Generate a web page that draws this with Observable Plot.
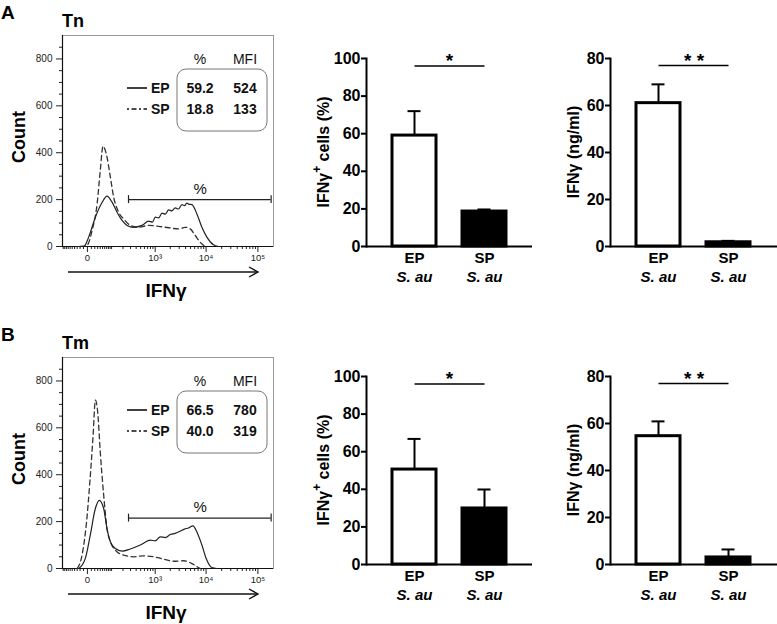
<!DOCTYPE html>
<html><head><meta charset="utf-8">
<script src="https://cdn.jsdelivr.net/npm/d3@7"></script>
<script src="https://cdn.jsdelivr.net/npm/@observablehq/plot@0.6"></script>
<style>
body{margin:0;background:#fff;}
#fig{position:relative;width:777px;height:624px;overflow:hidden;background:#fff;font-family:"Liberation Sans",Arial,sans-serif;}
#fig > svg{position:absolute;overflow:visible;}
</style></head><body><div id="fig"></div>
<script>
const FONT = '"Liberation Sans", Arial, sans-serif';

// ---------- Histogram data (IFNγ value, count) ----------
const histA_EP = [[-30,0],[-9,0],[3,40],[22,125],[48,189],[72,215],[103,189],[142,146],[190,111],[250,90],[352,82],[534,90],[733,108],[880,104],[1004,125],[1180,122],[1368,142],[1600,138],[1852,156],[2150,152],[2508,165],[2900,160],[3392,179],[3800,174],[4246,185],[4700,180],[5310,179],[6640,139],[8300,82],[10360,40],[13910,7],[17370,0]];
const histA_SP = [[-20,0],[-1,5],[12,68],[28,182],[40,324],[52,428],[72,381],[92,296],[115,210],[156,146],[207,118],[297,90],[452,82],[733,90],[1170,86],[1852,80],[2912,75],[3932,82],[4924,75],[6160,47],[7700,18],[9610,0]];
const histB_EP = [[-24,0],[-5,43],[7,142],[22,256],[36,291],[55,256],[72,170],[92,114],[128,85],[190,74],[297,83],[491,100],[795,121],[1000,118],[1265,135],[1600,132],[2000,145],[2500,150],[3140,159],[3800,168],[4560,173],[5550,182],[6640,156],[8300,100],[10050,43],[12950,4],[16200,0]];
const histB_SP = [[-30,0],[-14,57],[-2,199],[6,370],[15,569],[22,718],[30,668],[40,497],[55,313],[72,170],[92,114],[128,78],[207,57],[352,50],[577,54],[928,50],[1473,40],[2325,31],[3645,33],[5310,21],[7130,4],[7700,0]];

const histTitles = ["Tn", "Tm"];
const panelLetters = ["A", "B"];
const statCols = ["%", "MFI"];
const statsA_EP = ["59.2", "524"];
const statsA_SP = ["18.8", "133"];
const statsB_EP = ["66.5", "780"];
const statsB_SP = ["40.0", "319"];
const seriesNames = ["EP", "SP"];

const histYTicks = [0, 200, 400, 600, 800];
const histYMinor = [50,100,150,250,300,350,450,500,550,650,700,750,850];
const histXTicks = [0, 1000, 10000, 100000];
const histXTickLabels = ["0", "10\u00B3", "10\u2074", "10\u2075"];
const histXMinor = [-100,-90,-80,-70,-60,-50,-40,-30,-20,-10,10,20,30,40,50,60,70,80,90,100,200,300,400,500,600,700,800,900,2000,3000,4000,5000,6000,7000,8000,9000,20000,30000,40000,50000,60000,70000,80000,90000];
const gateRange = [270, 180000];
const gateLabelX = 7700;
const gateCountA = 200;
const gateCountB = 215;

// ---------- Bar data ----------
const groups = ["EP", "SP"];
const groupSub = ["S. au", "S. au"];
const barFills = ["white", "black"];
const pctA_mean = [59, 18.6];
const pctA_err = [13, 1.1];
const ngA_mean = [61, 1.8];
const ngA_err = [8, 0.6];
const pctB_mean = [50.5, 29.8];
const pctB_err = [16.3, 10.1];
const ngB_mean = [54.6, 3.0];
const ngB_err = [6.3, 3.4];
const pctTicks = [0, 20, 40, 60, 80, 100];
const ngTicks = [0, 20, 40, 60, 80];
const sigPct = 96;
const sigNg = 77;
const starsPct = "*";
const starsNg = "* *";

const fig = document.getElementById("fig");

function place(svg, left, top) {
  svg.style.position = "absolute";
  svg.style.left = left + "px";
  svg.style.top = top + "px";
  fig.appendChild(svg);
}

function hist(left, top, ep, sp, gateY) {
  const xy = {x: d => d[0], y: d => d[1]};
  const svg = Plot.plot({
    width: 280, height: 262,
    marginLeft: 62, marginRight: 7, marginTop: 35, marginBottom: 16,
    x: {type: "symlog", constant: 52, domain: [-105, 200000]},
    y: {domain: [0, 900]},
    style: {fontFamily: FONT, fontSize: "10px", color: "#222", background: "none", overflow: "visible"},
    marks: [
      Plot.frame({stroke: "#999", strokeWidth: 1}),
      Plot.axisY(histYTicks, {tickSize: 6, tickPadding: 4, label: null, tickFormat: d => String(d), fontSize: 10}),
      Plot.axisY(histYMinor, {tickSize: 3, label: null, tickFormat: () => ""}),
      Plot.axisX(histXTicks, {tickSize: 6, tickPadding: 2, label: null, tickFormat: d => histXTickLabels[histXTicks.indexOf(d)], fontSize: 9.5}),
      Plot.axisX(histXMinor, {tickSize: 3, label: null, tickFormat: () => ""}),
      Plot.frame({anchor: "left", stroke: "#111", strokeWidth: 1.2}),
      Plot.ruleY([0], {stroke: "#111", strokeWidth: 1.2}),
      Plot.line(sp, {...xy, stroke: "#333", strokeWidth: 1.3, strokeDasharray: "5,3.5", curve: "monotone-x"}),
      Plot.line(ep, {...xy, stroke: "#222", strokeWidth: 1.2, curve: "monotone-x"}),
      Plot.ruleY([gateY], {x1: gateRange[0], x2: gateRange[1], stroke: "#222", strokeWidth: 1.2}),
      Plot.ruleX(gateRange, {y1: gateY - 17, y2: gateY + 17, stroke: "#222", strokeWidth: 1.2}),
      Plot.text(["%"], {x: gateLabelX, y: gateY, dy: -6, lineAnchor: "bottom", fontSize: 15, fill: "#111"})
    ]
  });
  place(svg, left, top);
}

function bars(left, top, width, mLeft, yMax, yTicks, means, errs, sig, star) {
  const data = groups.map((g, i) => ({g, m: means[i], e: errs[i], sub: groupSub[i], fill: barFills[i]}));
  const svg = Plot.plot({
    width: width, height: 290,
    marginLeft: mLeft, marginRight: 0, marginTop: 58, marginBottom: 44,
    x: {domain: groups, padding: 0.366},
    y: {domain: [0, yMax]},
    style: {fontFamily: FONT, fontSize: "15px", fontWeight: "bold", color: "black", background: "none", overflow: "visible"},
    marks: [
      Plot.ruleX(data, {x: "g", y1: "m", y2: d => d.m + d.e, stroke: "black", strokeWidth: 2}),
      Plot.tickY(data, {x: "g", y: d => d.m + d.e, stroke: "black", strokeWidth: 2, inset: 15.5}),
      Plot.barY(data, {x: "g", y: "m", fill: "fill", stroke: "black", strokeWidth: 3}),
      Plot.axisY(yTicks, {tickSize: 5, tickPadding: 1, strokeWidth: 2, label: null, fontSize: 16}),
      Plot.frame({anchor: "left", stroke: "black", strokeWidth: 2}),
      Plot.ruleY([0], {stroke: "black", strokeWidth: 2}),
      Plot.axisX({tickSize: 0, tickPadding: 6, label: null}),
      Plot.text(data, {x: "g", text: "sub", frameAnchor: "bottom", lineAnchor: "top", dy: 25, fontStyle: "italic"}),
      Plot.link([sig], {x1: () => groups[0], x2: () => groups[1], y1: d => d, y2: d => d, stroke: "black", strokeWidth: 1.5}),
      Plot.text([star], {y: sig, text: d => d, frameAnchor: "middle", lineAnchor: "bottom", dy: 1, fontSize: 19})
    ]
  });
  place(svg, left, top);
}

hist(0, 0, histA_EP, histA_SP, gateCountA);
hist(0, 322, histB_EP, histB_SP, gateCountB);
bars(280, 0, 252, 86, 100, pctTicks, pctA_mean, pctA_err, sigPct, starsPct);
bars(520, 0, 257, 90, 80, ngTicks, ngA_mean, ngA_err, sigNg, starsNg);
bars(280, 318, 252, 86, 100, pctTicks, pctB_mean, pctB_err, sigPct, starsPct);
bars(520, 318, 257, 90, 80, ngTicks, ngB_mean, ngB_err, sigNg, starsNg);

// ---------- Overlay: panel letters, titles, axis titles, legends ----------
const ov = d3.select("#fig").append("svg")
  .attr("width", 777).attr("height", 624)
  .style("left", "0px").style("top", "0px")
  .attr("font-family", FONT);

function panelText(ft, idx, statsEP, statsSP, barTop) {
  ov.append("text").attr("x", 1).attr("y", ft - 16.5).attr("font-size", 19).attr("font-weight", "bold").text(panelLetters[idx]);
  ov.append("text").attr("x", 62).attr("y", ft - 8).attr("font-size", 18).attr("font-weight", "bold").text(histTitles[idx]);
  ov.append("text").attr("transform", `translate(19,${ft + 102}) rotate(-90)`)
    .attr("text-anchor", "middle").attr("dominant-baseline", "central")
    .attr("font-size", 18).attr("font-weight", "bold").text("Count");
  ov.append("text").attr("x", 166).attr("y", ft + 262).attr("text-anchor", "middle")
    .attr("font-size", 19).attr("font-weight", "bold").text("IFN\u03B3");
  const ay = ft + 237;
  ov.append("line").attr("x1", 68).attr("x2", 258).attr("y1", ay).attr("y2", ay).attr("stroke", "#111").attr("stroke-width", 1.4);
  ov.append("polyline").attr("points", `249,${ay - 5} 258,${ay} 249,${ay + 5}`).attr("fill", "none").attr("stroke", "#111").attr("stroke-width", 1.4);

  const g = ov.append("g").attr("transform", `translate(0,${ft})`);
  g.append("text").attr("x", 200).attr("y", 29).attr("text-anchor", "middle").attr("font-size", 14).attr("fill", "#111").text(statCols[0]);
  g.append("text").attr("x", 245).attr("y", 29).attr("text-anchor", "middle").attr("font-size", 14).attr("fill", "#111").text(statCols[1]);
  g.append("rect").attr("x", 177).attr("y", 34).attr("width", 90).attr("height", 62).attr("rx", 9)
    .attr("fill", "none").attr("stroke", "#777").attr("stroke-width", 1);
  const rows = [{name: seriesNames[0], vals: statsEP, dash: null, y: 53}, {name: seriesNames[1], vals: statsSP, dash: "2,2.5,5,2.5", y: 74}];
  rows.forEach(r => {
    const ln = g.append("line").attr("x1", 127).attr("x2", 147).attr("y1", r.y).attr("y2", r.y).attr("stroke", "#111").attr("stroke-width", 1.6);
    if (r.dash) ln.attr("stroke-dasharray", r.dash);
    g.append("text").attr("x", 151).attr("y", r.y + 5).attr("font-size", 14).attr("font-weight", "bold").attr("fill", "#111").text(r.name);
    g.append("text").attr("x", 200).attr("y", r.y + 5).attr("text-anchor", "middle").attr("font-size", 14).attr("font-weight", "bold").attr("fill", "#111").text(r.vals[0]);
    g.append("text").attr("x", 245).attr("y", r.y + 5).attr("text-anchor", "middle").attr("font-size", 14).attr("font-weight", "bold").attr("fill", "#111").text(r.vals[1]);
  });

  const cy = barTop + 58 + 94;
  const t1 = ov.append("text").attr("transform", `translate(323,${cy}) rotate(-90)`)
    .attr("text-anchor", "middle").attr("dominant-baseline", "central")
    .attr("font-size", 16).attr("font-weight", "bold");
  t1.append("tspan").text("IFN\u03B3");
  t1.append("tspan").attr("dy", -6).attr("font-size", 12).text("+");
  t1.append("tspan").attr("dy", 6).text(" cells (%)");
  ov.append("text").attr("transform", `translate(573,${cy}) rotate(-90)`)
    .attr("text-anchor", "middle").attr("dominant-baseline", "central")
    .attr("font-size", 16).attr("font-weight", "bold").text("IFN\u03B3 (ng/ml)");
}

panelText(35, 0, statsA_EP, statsA_SP, 0);
panelText(357, 1, statsB_EP, statsB_SP, 318);
</script></body></html>
